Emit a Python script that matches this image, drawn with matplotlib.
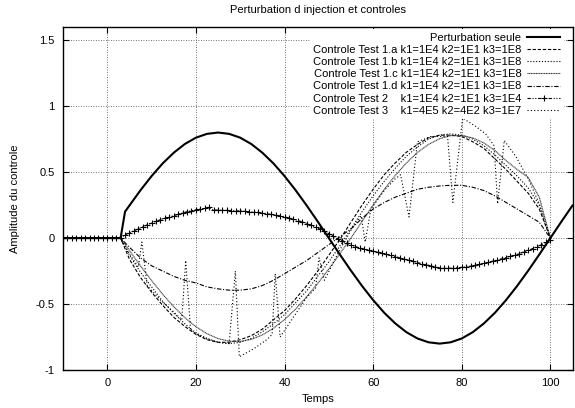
import numpy as np
import matplotlib
matplotlib.use('Agg')
from matplotlib import pyplot as plt

plt.rcParams['font.family'] = ['Liberation Sans', 'DejaVu Sans']

# perturbation seule
t_pert = [-10, 3, 4, 5, 7.5, 10, 12.5, 15, 17.5, 20, 22.5, 25, 27.5, 30, 32.5, 35, 37.5,
          40, 42.5, 45, 47.5, 50, 52.5, 55, 57.5, 60, 62.5, 65, 67.5, 70, 72.5, 75, 77.5,
          80, 82.5, 85, 87.5, 90, 92.5, 95, 97.5, 100, 102.5, 105]
y_pert = [0, 0, 0.20, 0.247, 0.363, 0.470, 0.566, 0.647, 0.713, 0.761, 0.790, 0.800, 0.790,
          0.761, 0.713, 0.647, 0.566, 0.470, 0.363, 0.247, 0.125, 0.0, -0.125, -0.247,
          -0.363, -0.470, -0.566, -0.647, -0.713, -0.761, -0.790, -0.800, -0.790, -0.761,
          -0.713, -0.647, -0.566, -0.470, -0.363, -0.247, -0.125, 0.0, 0.125, 0.247]

# controles test 1 (meme grille de temps)
t_ctrl = [-10, -5, 0, 3, 5, 7.5, 10, 12.5, 15, 17.5, 20, 22.5, 25, 27.5, 30, 32.5, 35, 37.5,
          40, 42.5, 45, 47.5, 50, 52.5, 55, 57.5, 60, 62.5, 65, 67.5, 70, 72.5, 75, 77.5,
          80, 82.5, 85, 87.5, 90, 92.5, 95, 97.5, 100]
y_1a = [0, 0, 0, 0, -0.16, -0.30, -0.41, -0.51, -0.60, -0.67, -0.73, -0.77, -0.79, -0.79,
        -0.77, -0.74, -0.69, -0.62, -0.55, -0.46, -0.36, -0.25, -0.13, -0.01, 0.12, 0.25,
        0.37, 0.48, 0.57, 0.65, 0.71, 0.76, 0.78, 0.78, 0.77, 0.73, 0.68, 0.60, 0.52, 0.43,
        0.34, 0.22, 0.0]
y_1b = [0, 0, 0, 0, -0.13, -0.26, -0.37, -0.48, -0.57, -0.65, -0.72, -0.76, -0.79, -0.80,
        -0.79, -0.76, -0.71, -0.65, -0.58, -0.49, -0.40, -0.29, -0.18, -0.06, 0.07, 0.20,
        0.32, 0.43, 0.53, 0.62, 0.69, 0.75, 0.78, 0.79, 0.78, 0.75, 0.70, 0.63, 0.55, 0.47,
        0.38, 0.25, 0.0]
y_1c = [0, 0, 0, 0, -0.095, -0.211, -0.322, -0.426, -0.520, -0.603, -0.672, -0.725, -0.762,
        -0.782, -0.784, -0.768, -0.734, -0.684, -0.618, -0.538, -0.445, -0.343, -0.234,
        -0.118, 0.0, 0.127, 0.251, 0.368, 0.475, 0.569, 0.649, 0.710, 0.753, 0.776, 0.778,
        0.759, 0.721, 0.663, 0.587, 0.520, 0.46, 0.31, 0.0]
y_1d = [0, 0, 0, 0, -0.07, -0.15, -0.21, -0.25, -0.29, -0.32, -0.34, -0.37, -0.385, -0.395,
        -0.395, -0.385, -0.36, -0.32, -0.27, -0.22, -0.17, -0.11, -0.05, 0.01, 0.07, 0.15,
        0.22, 0.27, 0.31, 0.34, 0.37, 0.385, 0.395, 0.40, 0.40, 0.385, 0.36, 0.32, 0.27,
        0.22, 0.17, 0.12, 0.0]

# test 2, un point par unite de temps (-10 .. 100)
t_2 = list(range(-10, 101))
y_2 = [0.0] * 14 + [
    0.025, 0.04, 0.055, 0.07, 0.085, 0.10, 0.115, 0.127, 0.14, 0.15,          # 4-13
    0.16, 0.17, 0.18, 0.19, 0.20, 0.207, 0.215, 0.22, 0.226, 0.232,          # 14-23
    0.212, 0.212, 0.211, 0.21, 0.209, 0.207, 0.205, 0.203, 0.20, 0.197,      # 24-33
    0.194, 0.19, 0.185, 0.179, 0.173, 0.167, 0.16, 0.152, 0.143, 0.133,      # 34-43
    0.122, 0.11, 0.097, 0.083, 0.068, 0.052, 0.034, 0.015, -0.005, -0.022,   # 44-53
    -0.038, -0.052, -0.064, -0.075, -0.085, -0.093, -0.10, -0.108, -0.116, -0.124,  # 54-63
    -0.132, -0.14, -0.15, -0.16, -0.168, -0.177, -0.186, -0.194, -0.202, -0.21,     # 64-73
    -0.218, -0.226, -0.23, -0.229, -0.227, -0.225, -0.222, -0.218, -0.213, -0.207,  # 74-83
    -0.20, -0.192, -0.184, -0.175, -0.166, -0.157, -0.148, -0.138, -0.128, -0.117,  # 84-93
    -0.105, -0.093, -0.08, -0.066, -0.05, -0.032, -0.012]                           # 94-100

# test 3
t_3 = [-10, 3, 5, 7, 7.8, 9, 12, 15, 16.8, 17.7, 18.8, 22, 25, 27.5, 28.9, 29.8, 33, 36,
       37.2, 37.9, 39, 42, 45, 47, 47.8, 49, 52, 55, 57.3, 58.2, 59.5, 62.5, 65, 66.2,
       68.1, 70, 73, 76.8, 78, 80.2, 83, 85.4, 87.3, 88.1, 89.6, 92.2, 95, 97.5, 100]
y_3 = [0, 0, -0.12, -0.22, -0.03, -0.36, -0.47, -0.56, -0.62, -0.17, -0.70, -0.76, -0.79,
       -0.80, -0.25, -0.90, -0.84, -0.77, -0.73, -0.27, -0.75, -0.60, -0.45, -0.38, -0.15,
       -0.32, -0.12, 0.06, 0.17, -0.03, 0.22, 0.36, 0.45, 0.48, 0.16, 0.73, 0.77, 0.77,
       0.27, 0.91, 0.85, 0.79, 0.70, 0.26, 0.74, 0.62, 0.45, 0.26, 0.0]

labels = ['Perturbation seule',
          'Controle Test 1.a k1=1E4 k2=1E1 k3=1E8',
          'Controle Test 1.b k1=1E4 k2=1E1 k3=1E8',
          'Controle Test 1.c k1=1E4 k2=1E1 k3=1E8',
          'Controle Test 1.d k1=1E4 k2=1E1 k3=1E8',
          'Controle Test 2    k1=1E4 k2=1E1 k3=1E4',
          'Controle Test 3    k1=4E5 k2=4E2 k3=1E7']

fig = plt.figure(figsize=(5.75, 4.08), dpi=100)
ax = fig.add_axes([63 / 575, 1 - 370 / 408, (572.5 - 63) / 575, (370 - 27) / 408])

ax.plot(t_pert, y_pert, color='black', lw=1.5, label=labels[0], zorder=5)
ax.plot(t_ctrl, y_1a, color='black', lw=0.8, ls=(0, (3, 1.6)), label=labels[1])
ax.plot(t_ctrl, y_1b, color='black', lw=0.8, ls=(0, (1, 1.6)), label=labels[2])
ax.plot(t_ctrl, y_1c, color='#333333', lw=0.8, ls=(0, (1, 0.5)), label=labels[3])
ax.plot(t_ctrl, y_1d, color='black', lw=0.8, ls=(0, (4, 1.5, 1, 1.5)), label=labels[4])
ax.plot(t_2, y_2, color='black', lw=0.8, ls=(0, (3, 1.5, 1, 1.5, 1, 1.5)), marker='+',
        ms=4.5, mew=0.8, label=labels[5])
ax.plot(t_3, y_3, color='black', lw=0.8, ls=(0, (1, 2)), label=labels[6])

ax.set_xlim(-10, 105)
ax.set_ylim(-1, 1.6)
ax.set_xticks([0, 20, 40, 60, 80, 100])
ax.set_yticks([-1, -0.5, 0, 0.5, 1, 1.5])
ax.set_yticklabels(['-1', '-0.5', '0', '0.5', '1', '1.5'])
ax.tick_params(direction='in', top=True, right=True, length=4, width=0.8,
               labelsize=8, pad=6)
ax.grid(True, color='#444444', ls=(0, (1, 2)), lw=0.6)
for s in ax.spines.values():
    s.set_linewidth(1.0)

ax.set_xlabel('Temps', fontsize=8, labelpad=4)
ax.set_ylabel('Amplitude du controle', fontsize=8, labelpad=11)
ax.set_title('Perturbation d injection et controles', fontsize=8, pad=10)

leg = ax.legend(loc='upper right', bbox_to_anchor=(0.987, 1.0), fontsize=8,
                markerfirst=False, numpoints=1, handlelength=3.0, handletextpad=0.5,
                labelspacing=0.2, borderpad=0.3, borderaxespad=0.2,
                frameon=True, fancybox=False, framealpha=1.0)
leg.get_frame().set_edgecolor('none')
leg.get_frame().set_facecolor('white')

fig.savefig('out.png', dpi=100)
